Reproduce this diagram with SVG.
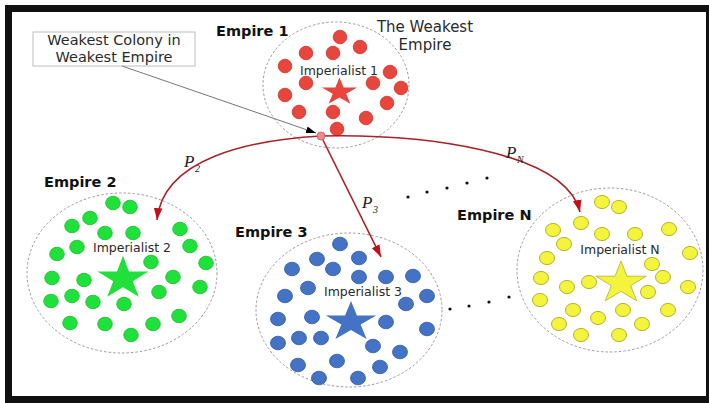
<svg xmlns="http://www.w3.org/2000/svg" xmlns:xlink="http://www.w3.org/1999/xlink" width="709" height="403" viewBox="0 0 709 403">
<style>
.bound{fill:#fff;stroke:#9a9a9a;stroke-width:1;stroke-dasharray:2.5,2}
.lbl{font-family:"DejaVu Sans",Verdana,sans-serif;font-weight:bold;font-size:14.5px;fill:#111}
.imp{font-family:"DejaVu Sans",Verdana,sans-serif;font-size:12.5px;fill:#2a2a2a;text-anchor:middle}
.note{font-family:"DejaVu Sans",Verdana,sans-serif;font-size:14.5px;fill:#2a2a2a;text-anchor:middle}
.pl{font-family:"Liberation Serif","Times New Roman",serif;font-style:italic;font-size:17px;fill:#222}
.ps{font-family:"Liberation Serif","Times New Roman",serif;font-style:italic;font-size:10px;fill:#222}
.r circle{fill:#e8453d;stroke:#c9332c;stroke-width:0.8}
.g ellipse{fill:#1ee23a;stroke:#1db231;stroke-width:0.8}
.b ellipse{fill:#4472c4;stroke:#2f5a9e;stroke-width:0.8}
.y ellipse{fill:#f4f43c;stroke:#a9a923;stroke-width:0.9}
.path{fill:none;stroke:#a82228;stroke-width:1.6}
.dot{fill:#111}
</style>
<defs>
<polygon id="star" vector-effect="non-scaling-stroke" points="0,-1 0.2245,-0.309 0.951,-0.309 0.3633,0.118 0.588,0.809 0,0.382 -0.588,0.809 -0.3633,0.118 -0.951,-0.309 -0.2245,-0.309"/>
<marker id="ra" markerUnits="userSpaceOnUse" markerWidth="12" markerHeight="16" viewBox="0 0 14 10" refX="14" refY="5" orient="auto">
<path d="M0,0 L14,5 L0,10 Z" fill="#c0101a"/>
</marker>
<marker id="ka" markerUnits="userSpaceOnUse" markerWidth="10" markerHeight="8" viewBox="0 0 10 7" refX="10" refY="3.5" orient="auto">
<path d="M0,0 L10,3.5 L0,7 Z" fill="#000"/>
</marker>
</defs>
<rect x="0" y="0" width="709" height="403" fill="#fff"/>
<rect x="5" y="5" width="704" height="398" fill="#111"/>
<rect x="12" y="12" width="694" height="384" fill="#fff"/>

<g id="empire1">
<ellipse class="bound" cx="336" cy="85" rx="73" ry="63"/>
<g class="r">
<circle cx="340" cy="37" r="6.8"/><circle cx="360" cy="47" r="6.8"/><circle cx="306" cy="53" r="6.8"/><circle cx="333" cy="53" r="6.8"/>
<circle cx="285" cy="66" r="6.8"/><circle cx="390" cy="72" r="6.8"/><circle cx="306" cy="83" r="6.8"/><circle cx="373" cy="83" r="6.8"/>
<circle cx="401" cy="88" r="6.8"/><circle cx="285" cy="95" r="6.8"/><circle cx="387" cy="103" r="6.8"/><circle cx="299" cy="112" r="6.8"/>
<circle cx="333" cy="112" r="6.8"/><circle cx="366" cy="118" r="6.8"/><circle cx="337" cy="129" r="6.8"/>
</g>
<use xlink:href="#star" href="#star" transform="translate(339.5,92) scale(18.5,14.5)" fill="#e8453d"/>
<text class="imp" x="339" y="75">Imperialist 1</text>
<text class="lbl" x="216" y="36">Empire 1</text>
</g>

<g id="empire2">
<ellipse class="bound" cx="122" cy="273" rx="95" ry="80"/>
<g class="g">
<ellipse cx="113" cy="203" rx="7.3" ry="6.8"/><ellipse cx="130" cy="207" rx="7.3" ry="6.8"/><ellipse cx="90" cy="218" rx="7.3" ry="6.8"/><ellipse cx="72" cy="226" rx="7.3" ry="6.8"/>
<ellipse cx="105" cy="233" rx="7.3" ry="6.8"/><ellipse cx="133" cy="233" rx="7.3" ry="6.8"/><ellipse cx="180" cy="229" rx="7.3" ry="6.8"/><ellipse cx="77" cy="247" rx="7.3" ry="6.8"/>
<ellipse cx="190" cy="246" rx="7.3" ry="6.8"/><ellipse cx="57" cy="254" rx="7.3" ry="6.8"/><ellipse cx="151" cy="262" rx="7.3" ry="6.8"/><ellipse cx="206" cy="263" rx="7.3" ry="6.8"/>
<ellipse cx="52" cy="278" rx="7.3" ry="6.8"/><ellipse cx="84" cy="280" rx="7.3" ry="6.8"/><ellipse cx="173" cy="277" rx="7.3" ry="6.8"/><ellipse cx="200" cy="287" rx="7.3" ry="6.8"/>
<ellipse cx="159" cy="292" rx="7.3" ry="6.8"/><ellipse cx="72" cy="296" rx="7.3" ry="6.8"/><ellipse cx="51" cy="301" rx="7.3" ry="6.8"/><ellipse cx="93" cy="302" rx="7.3" ry="6.8"/>
<ellipse cx="124" cy="304" rx="7.3" ry="6.8"/><ellipse cx="179" cy="316" rx="7.3" ry="6.8"/><ellipse cx="70" cy="323" rx="7.3" ry="6.8"/><ellipse cx="105" cy="324" rx="7.3" ry="6.8"/>
<ellipse cx="153" cy="324" rx="7.3" ry="6.8"/><ellipse cx="131" cy="335" rx="7.3" ry="6.8"/>
</g>
<use xlink:href="#star" href="#star" transform="translate(123,278.5) scale(26.8,22.7)" fill="#22e03c"/>
<text class="imp" x="132" y="252">Imperialist 2</text>
<text class="lbl" x="44" y="187">Empire 2</text>
</g>

<g id="empire3">
<ellipse class="bound" cx="349" cy="310" rx="93" ry="77"/>
<g class="b">
<ellipse cx="340" cy="244" rx="7.5" ry="6.8"/><ellipse cx="317" cy="259" rx="7.5" ry="6.8"/><ellipse cx="359" cy="258" rx="7.5" ry="6.8"/><ellipse cx="292" cy="269" rx="7.5" ry="6.8"/>
<ellipse cx="333" cy="269" rx="7.5" ry="6.8"/><ellipse cx="359" cy="277" rx="7.5" ry="6.8"/><ellipse cx="386" cy="277" rx="7.5" ry="6.8"/><ellipse cx="413" cy="276" rx="7.5" ry="6.8"/>
<ellipse cx="308" cy="288" rx="7.5" ry="6.8"/><ellipse cx="285" cy="296" rx="7.5" ry="6.8"/><ellipse cx="406" cy="304" rx="7.5" ry="6.8"/><ellipse cx="427" cy="296" rx="7.5" ry="6.8"/>
<ellipse cx="278" cy="319" rx="7.5" ry="6.8"/><ellipse cx="312" cy="317" rx="7.5" ry="6.8"/><ellipse cx="386" cy="322" rx="7.5" ry="6.8"/><ellipse cx="427" cy="329" rx="7.5" ry="6.8"/>
<ellipse cx="299" cy="338" rx="7.5" ry="6.8"/><ellipse cx="321" cy="338" rx="7.5" ry="6.8"/><ellipse cx="278" cy="343" rx="7.5" ry="6.8"/><ellipse cx="373" cy="346" rx="7.5" ry="6.8"/>
<ellipse cx="400" cy="352" rx="7.5" ry="6.8"/><ellipse cx="337" cy="361" rx="7.5" ry="6.8"/><ellipse cx="298" cy="365" rx="7.5" ry="6.8"/><ellipse cx="380" cy="367" rx="7.5" ry="6.8"/>
<ellipse cx="319" cy="378" rx="7.5" ry="6.8"/><ellipse cx="358" cy="378" rx="7.5" ry="6.8"/>
</g>
<use xlink:href="#star" href="#star" transform="translate(351,322) scale(26.5,21)" fill="#4472c4"/>
<text class="imp" x="363" y="296">Imperialist 3</text>
<text class="lbl" x="235" y="237">Empire 3</text>
</g>

<g id="empireN">
<ellipse class="bound" cx="610" cy="270" rx="93" ry="82"/>
<g class="y">
<ellipse cx="602" cy="202" rx="7.5" ry="6.6"/><ellipse cx="619" cy="207" rx="7.5" ry="6.6"/><ellipse cx="581" cy="223" rx="7.5" ry="6.6"/><ellipse cx="553" cy="230" rx="7.5" ry="6.6"/>
<ellipse cx="602" cy="234" rx="7.5" ry="6.6"/><ellipse cx="635" cy="234" rx="7.5" ry="6.6"/><ellipse cx="669" cy="229" rx="7.5" ry="6.6"/><ellipse cx="564" cy="244" rx="7.5" ry="6.6"/>
<ellipse cx="690" cy="253" rx="7.5" ry="6.6"/><ellipse cx="547" cy="258" rx="7.5" ry="6.6"/><ellipse cx="652" cy="264" rx="7.5" ry="6.6"/><ellipse cx="663" cy="277" rx="7.5" ry="6.6"/>
<ellipse cx="541" cy="278" rx="7.5" ry="6.6"/><ellipse cx="589" cy="282" rx="7.5" ry="6.6"/><ellipse cx="567" cy="287" rx="7.5" ry="6.6"/><ellipse cx="688" cy="287" rx="7.5" ry="6.6"/>
<ellipse cx="648" cy="292" rx="7.5" ry="6.6"/><ellipse cx="540" cy="300" rx="7.5" ry="6.6"/><ellipse cx="573" cy="310" rx="7.5" ry="6.6"/><ellipse cx="623" cy="310" rx="7.5" ry="6.6"/>
<ellipse cx="668" cy="310" rx="7.5" ry="6.6"/><ellipse cx="598" cy="318" rx="7.5" ry="6.6"/><ellipse cx="559" cy="324" rx="7.5" ry="6.6"/><ellipse cx="642" cy="324" rx="7.5" ry="6.6"/>
<ellipse cx="581" cy="335" rx="7.5" ry="6.6"/><ellipse cx="619" cy="335" rx="7.5" ry="6.6"/>
</g>
<use xlink:href="#star" href="#star" transform="translate(621,283) scale(26.6,22)" fill="#f4f43c" stroke="#b0b030" stroke-width="0.8"/>
<text class="imp" x="620" y="254">Imperialist N</text>
<text class="lbl" x="457" y="220">Empire N</text>
</g>

<g id="note">
<rect x="33" y="32" width="162" height="34" fill="#fff" stroke="#bdbdbd" stroke-width="1"/>
<text class="note" x="114" y="44.5">Weakest Colony in</text>
<text class="note" x="114" y="61.5">Weakest Empire</text>
</g>
<g id="weakest-label">
<text class="note" x="425" y="32" style="font-size:15px">The Weakest</text>
<text class="note" x="425" y="50" style="font-size:15px">Empire</text>
</g>

<g id="connectors">
<path d="M122,66 L316,133" stroke="#777" stroke-width="1" fill="none" marker-end="url(#ka)"/>
<path class="path" d="M321,136 C250,140 163,158 157,220" marker-end="url(#ra)"/>
<path class="path" d="M321,136 L381,257" marker-end="url(#ra)"/>
<path class="path" d="M321,136 C420,134 565,150 580,212" marker-end="url(#ra)"/>
<circle cx="321" cy="136" r="4" fill="#f08a8a" stroke="#c85a5a" stroke-width="0.8"/>
<text class="pl" x="184" y="167">P</text><text class="ps" x="195" y="172">2</text>
<text class="pl" x="362" y="208">P</text><text class="ps" x="373" y="213">3</text>
<text class="pl" x="506" y="158">P</text><text class="ps" x="517" y="163">N</text>
<g class="dot">
<circle cx="408" cy="197" r="1.6"/><circle cx="427" cy="192" r="1.6"/><circle cx="447" cy="188" r="1.6"/><circle cx="467" cy="183" r="1.6"/><circle cx="487" cy="178" r="1.6"/>
<circle cx="450" cy="309" r="1.6"/><circle cx="469" cy="306" r="1.6"/><circle cx="489" cy="302" r="1.6"/><circle cx="509" cy="297" r="1.6"/>
</g>
</g>
</svg>
